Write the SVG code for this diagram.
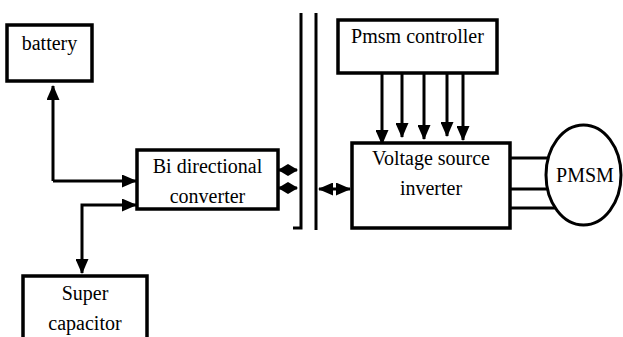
<svg xmlns="http://www.w3.org/2000/svg" width="623" height="337" viewBox="0 0 623 337">
<style>
.box{fill:#fff;stroke:#000;stroke-width:3.5}
.ln{fill:none;stroke:#000;stroke-width:3}
text{font-family:'Liberation Serif','DejaVu Serif',serif;font-size:20px;fill:#000;text-anchor:middle}
</style>
<defs>
<marker id="ah" markerUnits="userSpaceOnUse" markerWidth="15" markerHeight="13" refX="14" refY="6.5" orient="auto-start-reverse">
<path d="M0,0 L15,6.5 L0,13 z" fill="#000"/>
</marker>
<marker id="ahs" markerUnits="userSpaceOnUse" markerWidth="10" markerHeight="12" refX="9" refY="6" orient="auto-start-reverse">
<path d="M0,0 L10,6 L0,12 z" fill="#000"/>
</marker>
</defs>
<g id="connectors">
<path class="ln" d="M53,181 V86" marker-end="url(#ah)"/>
<path class="ln" d="M53,181 H136" marker-end="url(#ah)"/>
<path class="ln" d="M136,205 H82 V273" marker-start="url(#ah)" marker-end="url(#ah)"/>
<path class="ln" d="M279,170 H297" marker-start="url(#ahs)" marker-end="url(#ahs)"/>
<path class="ln" d="M279,188 H297" marker-start="url(#ahs)" marker-end="url(#ahs)"/>
<path class="ln" d="M319,189 H350" marker-start="url(#ah)" marker-end="url(#ah)"/>
<path class="ln" d="M382,73 V144" marker-end="url(#ah)"/>
<path class="ln" d="M402,73 V137" marker-end="url(#ah)"/>
<path class="ln" d="M424,73 V139" marker-end="url(#ah)"/>
<path class="ln" d="M447,73 V136" marker-end="url(#ah)"/>
<path class="ln" d="M463,73 V140" marker-end="url(#ah)"/>
<path class="ln" d="M510,158 H552"/>
<path class="ln" d="M510,189 H550"/>
<path class="ln" d="M510,208 H556"/>
</g>
<g id="bus">
<path class="ln" d="M301,13 V228 H293"/>
<path class="ln" d="M316,13 V230"/>
</g>
<g id="battery">
<rect class="box" x="7" y="25" width="85" height="56"/>
<text x="49.5" y="50" font-family="Liberation Serif, serif">battery</text>
</g>
<g id="bidirectional-converter">
<rect class="box" x="137" y="150" width="141" height="59"/>
<text x="207.5" y="173" font-family="Liberation Serif, serif">Bi directional</text>
<text x="207.5" y="203" font-family="Liberation Serif, serif">converter</text>
</g>
<g id="super-capacitor">
<rect class="box" x="23" y="276" width="124" height="70"/>
<text x="85" y="300" font-family="Liberation Serif, serif">Super</text>
<text x="85" y="330" font-family="Liberation Serif, serif">capacitor</text>
</g>
<g id="pmsm-controller">
<rect class="box" x="338" y="20" width="159" height="53"/>
<text x="417.5" y="43" font-family="Liberation Serif, serif">Pmsm controller</text>
</g>
<g id="voltage-source-inverter">
<rect class="box" x="352" y="143" width="158" height="85"/>
<text x="431" y="165" font-family="Liberation Serif, serif">Voltage source</text>
<text x="431" y="195" font-family="Liberation Serif, serif">inverter</text>
</g>
<g id="pmsm">
<ellipse class="box" cx="583.5" cy="175" rx="37.5" ry="50" style="stroke-width:3"/>
<text x="585" y="182" font-family="Liberation Serif, serif">PMSM</text>
</g>
</svg>
